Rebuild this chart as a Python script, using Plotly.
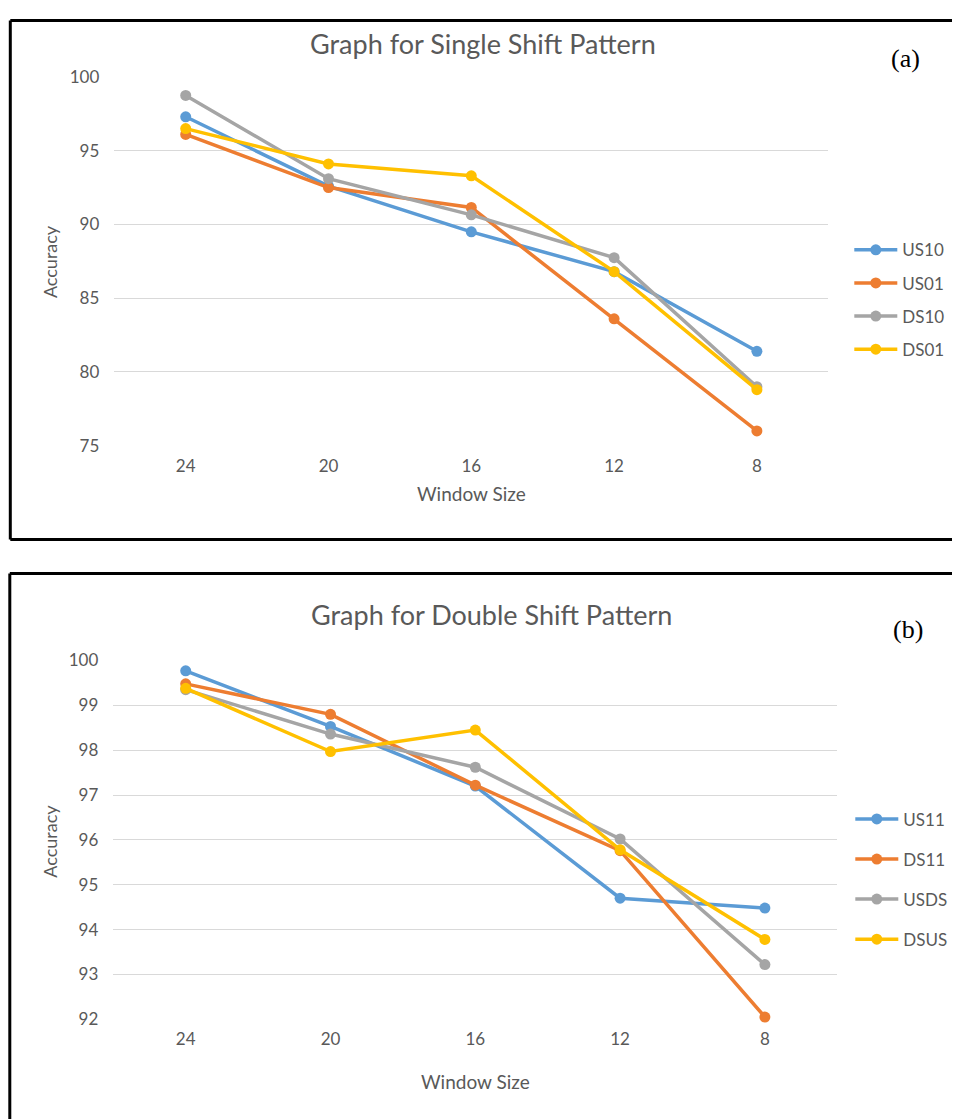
import plotly.graph_objects as go

# ---------------- data ----------------
window_sizes = ["24", "20", "16", "12", "8"]

single_names = ["US10", "US01", "DS10", "DS01"]
us10 = [97.3, 92.6, 89.5, 86.8, 81.4]
us01 = [96.1, 92.5, 91.15, 83.6, 76.0]
ds10 = [98.75, 93.1, 90.65, 87.75, 79.0]
ds01 = [96.5, 94.1, 93.3, 86.8, 78.8]
single_series = [us10, us01, ds10, ds01]

double_names = ["US11", "DS11", "USDS", "DSUS"]
us11 = [99.77, 98.53, 97.2, 94.7, 94.48]
ds11 = [99.48, 98.8, 97.22, 95.76, 92.05]
usds = [99.35, 98.36, 97.62, 96.02, 93.22]
dsus = [99.38, 97.97, 98.45, 95.78, 93.78]
double_series = [us11, ds11, usds, dsus]

single_yticks = [75, 80, 85, 90, 95, 100]
double_yticks = [92, 93, 94, 95, 96, 97, 98, 99, 100]

colors = ["#5B9BD5", "#ED7D31", "#A5A5A5", "#FFC000"]

# figure size and mapping from target-picture pixels to figure pixels
W, H = 970, 1122
AX, AY, SY = 7.7, 17.0, 0.982
FONT = "Lato"
TXT = "#595959"


def fx(r):
    return r - AX


def fy(r):
    return max((r - AY) / SY, 1.5)


def px_x(r):
    return fx(r) / W


def px_y(r):
    return 1 - fy(r) / H


fig = go.Figure()

for name, vals, col in zip(single_names, single_series, colors):
    fig.add_trace(go.Scatter(
        x=window_sizes, y=vals, name=name, mode="lines+markers",
        line=dict(color=col, width=3.5), marker=dict(color=col, size=11),
        xaxis="x", yaxis="y", legend="legend", legendgroup="a" + name,
        cliponaxis=False,
    ))

for name, vals, col in zip(double_names, double_series, colors):
    fig.add_trace(go.Scatter(
        x=window_sizes, y=vals, name=name, mode="lines+markers",
        line=dict(color=col, width=3.5), marker=dict(color=col, size=11),
        xaxis="x2", yaxis="y2", legend="legend2", legendgroup="b" + name,
        cliponaxis=False,
    ))

axis_common = dict(
    showline=False, zeroline=False, ticks="",
    tickfont=dict(family=FONT, size=17, color=TXT),
)

fig.update_layout(
    width=W, height=H,
    margin=dict(l=0, r=0, t=0, b=0),
    paper_bgcolor="white", plot_bgcolor="white",
    font=dict(family=FONT, color=TXT),
    xaxis=dict(domain=[px_x(114), px_x(828)], type="category",
               range=[-0.5, 4.5], showgrid=False, anchor="y",
               ticklabelstandoff=8, **axis_common),
    yaxis=dict(domain=[px_y(444), px_y(75)], range=[75, 100],
               tickvals=single_yticks, showgrid=True, gridcolor="#D9D9D9",
               gridwidth=1, anchor="x", ticklabelstandoff=14, **axis_common),
    xaxis2=dict(domain=[px_x(113), px_x(837)], type="category",
                range=[-0.5, 4.5], showgrid=False, anchor="y2",
                ticklabelstandoff=8, **axis_common),
    yaxis2=dict(domain=[px_y(1018), px_y(659)], range=[92, 100],
                tickvals=double_yticks, showgrid=True, gridcolor="#D9D9D9",
                gridwidth=1, anchor="x2", ticklabelstandoff=14, **axis_common),
    legend=dict(x=px_x(849), y=px_y(298), xanchor="left", yanchor="middle",
                font=dict(family=FONT, size=17, color=TXT),
                tracegroupgap=8, itemwidth=43, bgcolor="rgba(0,0,0,0)"),
    legend2=dict(x=px_x(850), y=px_y(878), xanchor="left", yanchor="middle",
                 font=dict(family=FONT, size=17, color=TXT),
                 tracegroupgap=15, itemwidth=43, bgcolor="rgba(0,0,0,0)"),
    showlegend=True,
)

annotations = [
    dict(text="Graph for Single Shift Pattern", x=px_x(483), y=px_y(42),
         font=dict(family=FONT, size=27, color=TXT)),
    dict(text="Graph for Double Shift Pattern", x=px_x(491), y=px_y(613),
         font=dict(family=FONT, size=27, color=TXT)),
    dict(text="(a)", x=px_x(905), y=px_y(57),
         font=dict(family="Liberation Serif", size=26, color="black")),
    dict(text="(b)", x=px_x(908), y=px_y(628),
         font=dict(family="Liberation Serif", size=26, color="black")),
    dict(text="Window Size", x=px_x(471), y=px_y(492),
         font=dict(family=FONT, size=19, color=TXT)),
    dict(text="Window Size", x=px_x(475), y=px_y(1080),
         font=dict(family=FONT, size=19, color=TXT)),
    dict(text="Accuracy", x=px_x(50), y=px_y(260), textangle=-90,
         font=dict(family=FONT, size=18, color=TXT)),
    dict(text="Accuracy", x=px_x(50), y=px_y(840), textangle=-90,
         font=dict(family=FONT, size=18, color=TXT)),
]
for a in annotations:
    a.update(xref="paper", yref="paper", showarrow=False,
             xanchor="center", yanchor="middle")
fig.update_layout(annotations=annotations)

border = dict(color="black", width=3)
fig.update_layout(shapes=[
    # panel (a): top, left, bottom edges (right edge is cropped off)
    dict(type="line", xref="paper", yref="paper",
         x0=px_x(10), x1=1, y0=px_y(7), y1=px_y(7), line=border),
    dict(type="line", xref="paper", yref="paper",
         x0=px_x(10), x1=px_x(10), y0=px_y(7), y1=px_y(538), line=border),
    dict(type="line", xref="paper", yref="paper",
         x0=px_x(10), x1=1, y0=px_y(538), y1=px_y(538), line=border),
    # panel (b): top and left edges
    dict(type="line", xref="paper", yref="paper",
         x0=px_x(9.5), x1=1, y0=px_y(572), y1=px_y(572), line=border),
    dict(type="line", xref="paper", yref="paper",
         x0=px_x(9.5), x1=px_x(9.5), y0=px_y(572), y1=0, line=border),
])

fig.write_html("out.html")
